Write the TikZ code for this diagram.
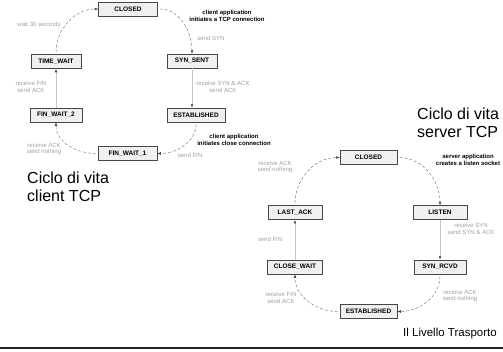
\documentclass[tikz,border=0pt]{standalone}
\usepackage{fontspec}
\setmainfont{Liberation Sans}
\usetikzlibrary{arrows.meta}

\tikzset{
  statebox/.style={draw=gray!55!black,fill=gray!12,line width=.5pt,
    minimum height=14pt,inner sep=0pt,font=\fontsize{6.5}{7}\selectfont\bfseries},
  note/.style={text=gray!75,align=center,inner sep=0pt,font=\fontsize{6}{6.8}\selectfont},
  act/.style={align=center,inner sep=0pt,font=\fontsize{6}{6.8}\selectfont\bfseries},
  title/.style={align=left,inner sep=0pt,font=\fontsize{16}{17.5}\selectfont},
  trans/.style={densely dashed,gray!85!black,line width=.4pt,shorten <=2pt,
    -{Latex[length=3.5pt,width=2.6pt,color=black!75]}},
  flow/.style={gray!45,line width=.7pt,
    -{Latex[length=3.5pt,width=2.6pt,color=black!75]}}
}

\begin{document}
\begin{tikzpicture}[x=1pt,y=-1pt]
\useasboundingbox (0,0) rectangle (503,351);

% client side
\node[statebox,minimum width=59pt] (cclosed) at (128,9) {CLOSED};
\node[statebox,minimum width=50pt] (ctimewait) at (56,61.5) {TIME\_WAIT};
\node[statebox,minimum width=50pt] (csynsent) at (192,61) {SYN\_SENT};
\node[statebox,minimum width=52pt] (cfinwait2) at (56,115) {FIN\_WAIT\_2};
\node[statebox,minimum width=58pt] (cestab) at (196,115) {ESTABLISHED};
\node[statebox,minimum width=59pt] (cfinwait1) at (127.5,153.5) {FIN\_WAIT\_1};

\draw[trans] (cclosed.east) to[out=0,in=90] (csynsent.north);
\draw[flow] (csynsent.south) -- (csynsent.south |- cestab.north);
\draw[trans] (cestab.south) to[out=-90,in=0] (cfinwait1.east);
\draw[trans] (cfinwait1.west) to[out=180,in=-90] (cfinwait2.south);
\draw[flow] (cfinwait2.north) -- (ctimewait.south);
\draw[trans] (ctimewait.north) to[out=90,in=180] (cclosed.west);

\node[note] (lwait) at (39,24) {wait 30 seconds};
\node[act] (lcopen) at (227,16) {client application\\initiates a TCP connection};
\node[note] (lssyn) at (211,38) {send SYN};
\node[note] (lrfin) at (31,87) {receive FIN\\send ACK};
\node[note] (lrsyn) at (223,87) {receive SYN \& ACK\\send ACK};
\node[act] (lcclose) at (234,140) {client application\\initiates close connection};
\node[note] (lsfin) at (190,155) {send FIN};
\node[note] (lrack) at (44,149) {receive ACK\\send nothing};
\node[title,anchor=north west] (tclient) at (27,172) {Ciclo di vita\\client TCP};

% server side
\node[statebox,minimum width=57pt] (sclosed) at (368.5,157.5) {CLOSED};
\node[statebox,minimum width=54pt] (slisten) at (440,212.5) {LISTEN};
\node[statebox,minimum width=54pt] (slastack) at (295,212.5) {LAST\_ACK};
\node[statebox,minimum width=55pt] (sclosewait) at (295,267) {CLOSE\_WAIT};
\node[statebox,minimum width=52pt] (ssynrcvd) at (440,267) {SYN\_RCVD};
\node[statebox,minimum width=57pt] (sestab) at (368.5,311.5) {ESTABLISHED};

\draw[trans] (sclosed.east) to[out=0,in=90] (slisten.north);
\draw[flow] (slisten.south) -- (ssynrcvd.north);
\draw[trans] (ssynrcvd.south) to[out=-90,in=0] (sestab.east);
\draw[trans] (sestab.west) to[out=180,in=-90] (sclosewait.south);
\draw[flow] (sclosewait.north) -- (slastack.south);
\draw[trans] (slastack.north) to[out=90,in=180] (sclosed.west);

\node[act] (lsopen) at (468,160) {server application\\creates a listen socket};
\node[note] (lrack1) at (275,167) {receive ACK\\send nothing};
\node[note] (lsfin2) at (270,239) {send FIN};
\node[note] (lrsyn2) at (471,229) {receive SYN\\send SYN \& ACK};
\node[note] (lrack2) at (460,296) {receive ACK\\send nothing};
\node[note] (lrfin2) at (281,298) {receive FIN\\send ACK};
\node[title,anchor=north west] (tserver) at (417,108) {Ciclo di vita\\server TCP};

\node[anchor=base west,inner sep=0pt,font=\fontsize{11.5}{13}\selectfont] (footer) at (403,336) {Il Livello Trasporto};
\draw[line width=1.5pt,gray!25!black] (0,348) -- (503,348);
\end{tikzpicture}
\end{document}
